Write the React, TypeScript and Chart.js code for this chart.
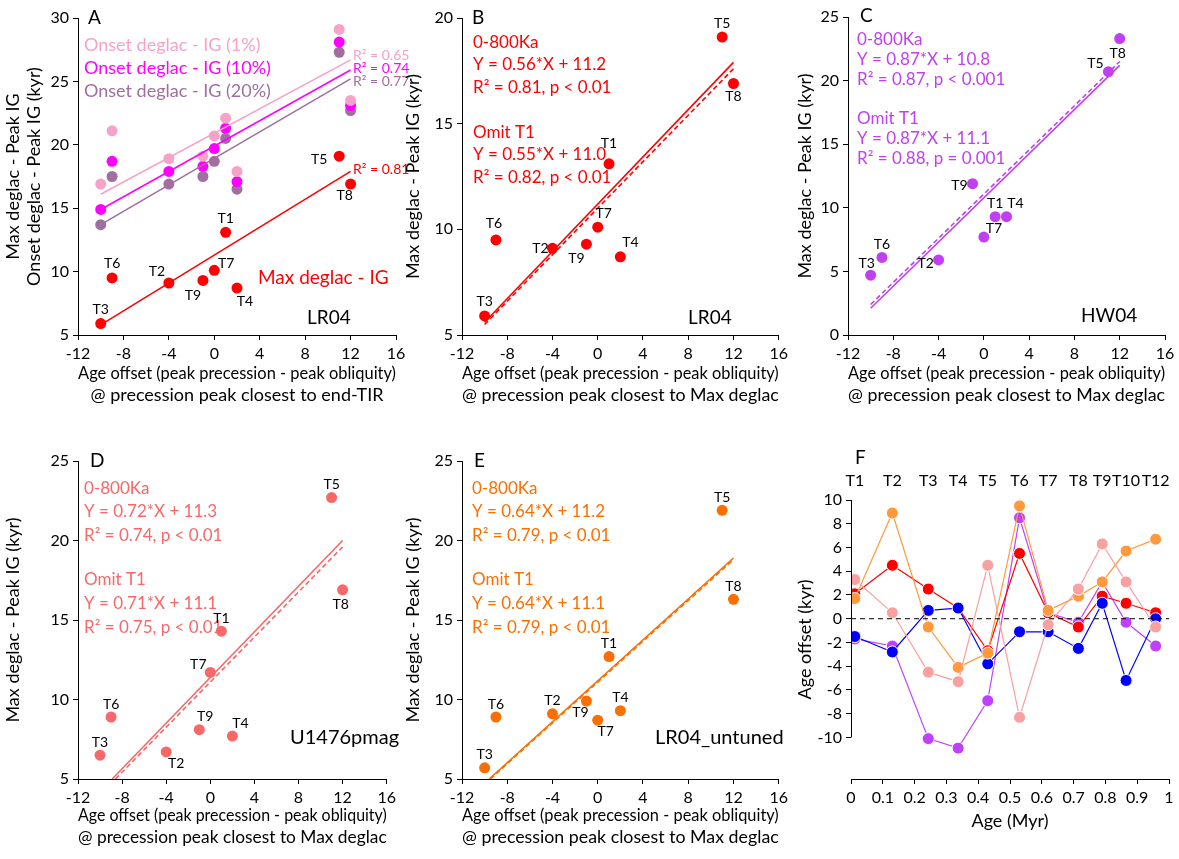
import React, { useEffect, useRef } from "react";
import { Chart, registerables } from "chart.js";
Chart.register(...registerables);

const FONT = "Lato, 'Open Sans', sans-serif";

// ---- Data ----
const tLabels = ["T3", "T6", "T2", "T9", "T7", "T1", "T4", "T5", "T8"];
const offsetX = [-10, -9, -4, -1, 0, 1, 2, 11, 12];
// Panel A
const aMaxDeglac = [5.9, 9.5, 9.1, 9.3, 10.1, 13.1, 8.7, 19.1, 16.9];
const aOnset1 = [16.9, 21.1, 18.9, 19.1, 20.7, 22.1, 17.9, 29.1, 23.5];
const aOnset10 = [14.9, 18.7, 17.9, 18.3, 19.7, 21.3, 17.1, 28.1, 23.1];
const aOnset20 = [13.7, 17.5, 16.9, 17.5, 18.7, 20.5, 16.5, 27.3, 22.7];
const aFitX = [-10, 12];
const aFit1 = [16.1, 26.7];
const aFit10 = [14.9, 25.9];
const aFit20 = [13.7, 25.2];
const aFitMax = [5.8, 17.9];
// Panel B (LR04)
const bValues = [5.9, 9.5, 9.1, 9.3, 10.1, 13.1, 8.7, 19.1, 16.9];
const bFitX = [-10, 12];
const bFitAll = [5.6, 17.9];
const bFitOmit = [5.5, 17.6];
// Panel C (HW04)
const cValues = [4.7, 6.1, 5.9, 11.9, 7.7, 9.3, 9.3, 20.7, 23.3];
const cFitX = [-10, 12];
const cFitAll = [2.1, 21.2];
const cFitOmit = [2.4, 21.5];
// Panel D (U1476pmag)
const dValues = [6.5, 8.9, 6.7, 8.1, 11.7, 14.3, 7.7, 22.7, 16.9];
const dFitAllX = [-8.9, 12];
const dFitAll = [5.0, 20.0];
const dFitOmitX = [-8.6, 12];
const dFitOmit = [5.0, 19.6];
// Panel E (LR04_untuned)
const eValues = [5.7, 8.9, 9.1, 9.9, 8.7, 12.7, 9.3, 21.9, 16.3];
const eFitAllX = [-9.6, 12];
const eFitAll = [5.0, 18.9];
const eFitOmitX = [-9.5, 12];
const eFitOmit = [5.0, 18.8];
// Panel F
const fTerms = ["T1", "T2", "T3", "T4", "T5", "T6", "T7", "T8", "T9", "T10", "T12"];
const fAges = [0.012, 0.13, 0.243, 0.337, 0.43, 0.53, 0.62, 0.715, 0.79, 0.865, 0.958];
const fRed = [2.1, 4.5, 2.5, 0.9, -2.7, 5.5, 0.5, -0.7, 1.9, 1.3, 0.5];
const fBlue = [-1.5, -2.8, 0.7, 0.9, -3.8, -1.1, -1.1, -2.5, 1.3, -5.2, 0.0];
const fOrange = [1.7, 8.9, -0.7, -4.1, -2.9, 9.5, 0.7, 1.9, 3.1, 5.7, 6.7];
const fPink = [3.3, 0.5, -4.5, -5.3, 4.5, -8.3, -0.5, 2.5, 6.3, 3.1, -0.7];
const fPurple = [-1.7, -2.3, -10.1, -10.9, -6.9, 8.5, 0.5, -0.3, 3.1, -0.3, -2.3];

const xOffsetTitle = ["Age offset (peak precession - peak obliquity)", "@ precession peak closest to Max deglac"];

type Txt = { x: number; y: number; t: string; c: string; f: number; align?: CanvasTextAlign };
type PtLbl = { xs: number[]; ys: number[]; offs: number[][] };

const pts = (xs: number[], ys: number[]) => xs.map((x, i) => ({ x, y: ys[i] }));
const scat = (ys: number[], color: string) => ({
  data: pts(offsetX, ys), backgroundColor: color, borderWidth: 0, pointRadius: 5.5, showLine: false,
});
const fit = (xs: number[], ys: number[], color: string, dash: number[] = []) => ({
  data: pts(xs, ys), borderColor: color, borderWidth: 1.6, borderDash: dash, pointRadius: 0, showLine: true, fill: false,
});

const labelsPlugin = (left: number, top: number, texts: Txt[], pl?: PtLbl) => ({
  id: "txt",
  afterDraw(chart: any) {
    const ctx = chart.ctx;
    ctx.save();
    ctx.textBaseline = "middle";
    texts.forEach((s) => {
      ctx.fillStyle = s.c;
      ctx.font = `${s.f}px ${FONT}`;
      ctx.textAlign = s.align || "left";
      ctx.fillText(s.t, s.x - left, s.y - top);
    });
    if (pl) {
      ctx.fillStyle = "#000";
      ctx.font = `14px ${FONT}`;
      ctx.textAlign = "center";
      pl.xs.forEach((x, i) => {
        const px = chart.scales.x.getPixelForValue(x) + pl.offs[i][0];
        const py = chart.scales.y.getPixelForValue(pl.ys[i]) + pl.offs[i][1];
        ctx.fillText(tLabels[i], px, py);
      });
    }
    ctx.restore();
  },
});

type Spec = {
  left: number; top: number; w: number; h: number; yW: number; xH: number; padR: number; padT: number;
  xMin: number; xMax: number; xStep: number; yMin: number; yMax: number; yStep: number;
  xTitle: string[]; yTitle: string[]; datasets: any[]; texts: Txt[]; pl?: PtLbl; isF?: boolean;
};

function Panel({ s }: { s: Spec }) {
  const ref = useRef<HTMLCanvasElement>(null);
  useEffect(() => {
    const tickCfg = { color: "#000", font: { family: FONT, size: 16 } };
    const grid = { display: true, drawOnChartArea: false, drawTicks: true, tickLength: 5, color: "#000" };
    const plugins: any[] = [labelsPlugin(s.left, s.top, s.texts, s.pl)];
    if (s.isF) {
      plugins.push({
        id: "fextra",
        afterDatasetsDraw(chart: any) {
          const ctx = chart.ctx; const x = chart.scales.x; const y = chart.scales.y;
          ctx.save();
          ctx.strokeStyle = "#000"; ctx.lineWidth = 1;
          ctx.setLineDash([5, 4]);
          ctx.beginPath(); ctx.moveTo(x.left, y.getPixelForValue(0)); ctx.lineTo(x.right, y.getPixelForValue(0)); ctx.stroke();
          ctx.restore();
        },
        afterDraw(chart: any) {
          const ctx = chart.ctx; const x = chart.scales.x; const y = chart.scales.y;
          ctx.save();
          ctx.strokeStyle = "#000"; ctx.lineWidth = 1;
          ctx.beginPath(); ctx.moveTo(x.left + 0.5, y.getPixelForValue(10)); ctx.lineTo(x.left + 0.5, y.getPixelForValue(-10)); ctx.stroke();
          ctx.fillStyle = "#000"; ctx.font = `16px ${FONT}`; ctx.textAlign = "center"; ctx.textBaseline = "middle";
          fAges.forEach((a, i) => ctx.fillText(fTerms[i], x.getPixelForValue(a), 481 - s.top));
          ctx.restore();
        },
      });
    }
    const chart = new Chart(ref.current!, {
      type: "scatter",
      data: { datasets: s.datasets },
      options: {
        animation: false, responsive: false, devicePixelRatio: 1,
        layout: { padding: { top: s.padT, right: s.padR, left: 0, bottom: 0 } },
        plugins: { legend: { display: false }, tooltip: { enabled: false } },
        scales: {
          x: {
            type: "linear", min: s.xMin, max: s.xMax,
            ticks: { ...tickCfg, stepSize: s.xStep, padding: 4,
              callback: (v: any) => (s.isF ? String(Math.round(v * 10) / 10) : String(v)) },
            grid, border: { display: true, color: "#000" },
            title: { display: true, text: s.xTitle, color: "#000", font: { family: FONT, size: 18 }, padding: 2 },
            afterFit: (sc: any) => { sc.height = s.xH; },
          },
          y: {
            type: "linear", min: s.yMin, max: s.yMax,
            ticks: { ...tickCfg, stepSize: s.yStep, padding: 4 },
            grid, border: { display: !s.isF, color: "#000" },
            title: { display: true, text: s.yTitle, color: "#000", font: { family: FONT, size: 18 }, padding: 2 },
            afterFit: (sc: any) => { sc.width = s.yW; },
            afterBuildTicks: s.isF ? (sc: any) => {
              const t = []; for (let v = -10; v <= 10; v += 2) t.push({ value: v }); sc.ticks = t;
            } : undefined,
          },
        },
      } as any,
      plugins,
    });
    return () => chart.destroy();
  }, []);
  return <canvas ref={ref} width={s.w} height={s.h}
    style={{ position: "absolute", left: s.left, top: s.top, width: s.w, height: s.h }} />;
}

const RED = "#ff0000", PINK1 = "#f7a2c8", MAG = "#ff00ff", PUR20 = "#a06fa0";
const CPUR = "#c040f0", DSAL = "#f86868", EOR = "#fb6f00";

const eqTexts = (x: number, ys: number[], c: string, lines: string[]): Txt[] =>
  lines.map((t, i) => ({ x, y: ys[i], t, c, f: 17 }));

const specs: Spec[] = [
  {
    left: 0, top: 0, w: 414, h: 408, yW: 78, xH: 73, padR: 18, padT: 18,
    xMin: -12, xMax: 16, xStep: 4, yMin: 5, yMax: 30, yStep: 5,
    xTitle: ["Age offset (peak precession - peak obliquity)", "@ precession peak closest to end-TIR"],
    yTitle: ["Max deglac - Peak IG", "Onset deglac - Peak IG (kyr)"],
    datasets: [fit(aFitX, aFit1, PINK1), fit(aFitX, aFit10, MAG), fit(aFitX, aFit20, PUR20), fit(aFitX, aFitMax, RED),
      scat(aOnset1, PINK1), scat(aOnset10, MAG), scat(aOnset20, PUR20), scat(aMaxDeglac, RED)],
    texts: [
      { x: 88, y: 18, t: "A", c: "#000", f: 19 },
      { x: 84, y: 45, t: "Onset deglac - IG (1%)", c: PINK1, f: 18 },
      { x: 84, y: 68, t: "Onset deglac - IG (10%)", c: MAG, f: 18 },
      { x: 84, y: 91, t: "Onset deglac - IG (20%)", c: PUR20, f: 18 },
      { x: 353, y: 55, t: "R² = 0.65", c: PINK1, f: 14 },
      { x: 353, y: 68, t: "R² = 0.74", c: MAG, f: 14 },
      { x: 353, y: 81, t: "R² = 0.77", c: PUR20, f: 14 },
      { x: 353, y: 169, t: "R² = 0.81", c: RED, f: 14 },
      { x: 258, y: 278, t: "Max deglac - IG", c: RED, f: 19 },
      { x: 307, y: 318, t: "LR04", c: "#000", f: 19 },
    ],
    pl: { xs: offsetX, ys: aMaxDeglac, offs: [[0, -14], [0, -14], [-12, -12], [-10, 15], [12, -7], [0, -14], [8, 13], [-20, 3], [-6, 11]] },
  },
  {
    left: 400, top: 0, w: 392, h: 408, yW: 62, xH: 73, padR: 12, padT: 18,
    xMin: -12, xMax: 16, xStep: 4, yMin: 5, yMax: 20, yStep: 5,
    xTitle: xOffsetTitle, yTitle: ["Max deglac - Peak IG (kyr)"],
    datasets: [fit(bFitX, bFitAll, RED), fit(bFitX, bFitOmit, RED, [5, 3]), scat(bValues, RED)],
    texts: [
      { x: 472, y: 18, t: "B", c: "#000", f: 19 },
      ...eqTexts(473, [43, 65, 88, 133, 155, 178], RED,
        ["0-800Ka", "Y = 0.56*X + 11.2", "R² = 0.81, p < 0.01", "Omit T1", "Y = 0.55*X + 11.0", "R² = 0.82, p < 0.01"]),
      { x: 688, y: 318, t: "LR04", c: "#000", f: 19 },
    ],
    pl: { xs: offsetX, ys: bValues, offs: [[0, -14], [-2, -16], [-12, 0], [-10, 14], [6, -14], [0, -20], [10, -14], [0, -14], [0, 13]] },
  },
  {
    left: 792, top: 0, w: 387, h: 408, yW: 56, xH: 73, padR: 14, padT: 17,
    xMin: -12, xMax: 16, xStep: 4, yMin: 0, yMax: 25, yStep: 5,
    xTitle: xOffsetTitle, yTitle: ["Max deglac - Peak IG (kyr)"],
    datasets: [fit(cFitX, cFitAll, CPUR), fit(cFitX, cFitOmit, CPUR, [5, 3]), scat(cValues, CPUR)],
    texts: [
      { x: 860, y: 16, t: "C", c: "#000", f: 19 },
      ...eqTexts(857, [40, 60, 80, 119, 139, 159], CPUR,
        ["0-800Ka", "Y = 0.87*X + 10.8", "R² = 0.87, p < 0.001", "Omit T1", "Y = 0.87*X + 11.1", "R² = 0.88, p = 0.001"]),
      { x: 1081, y: 316, t: "HW04", c: "#000", f: 19 },
    ],
    pl: { xs: offsetX, ys: cValues, offs: [[-4, -12], [0, -13], [-13, 4], [-13, 2], [10, -9], [0, -13], [9, -13], [-13, -8], [-2, 15]] },
  },
  {
    left: 0, top: 430, w: 400, h: 420, yW: 78, xH: 71, padR: 4, padT: 31,
    xMin: -12, xMax: 16, xStep: 4, yMin: 5, yMax: 25, yStep: 5,
    xTitle: xOffsetTitle, yTitle: ["Max deglac - Peak IG (kyr)"],
    datasets: [fit(dFitAllX, dFitAll, DSAL), fit(dFitOmitX, dFitOmit, DSAL, [5, 3]), scat(dValues, DSAL)],
    texts: [
      { x: 90, y: 461, t: "D", c: "#000", f: 19 },
      ...eqTexts(84, [489, 512, 536, 580, 604, 628], DSAL,
        ["0-800Ka", "Y = 0.72*X + 11.3", "R² = 0.74, p < 0.01", "Omit T1", "Y = 0.71*X + 11.1", "R² = 0.75, p < 0.01"]),
      { x: 290, y: 738, t: "U1476pmag", c: "#000", f: 20 },
    ],
    pl: { xs: offsetX, ys: dValues, offs: [[0, -13], [0, -13], [10, 12], [6, -13], [-12, -8], [0, -13], [8, -13], [0, -13], [-2, 15]] },
  },
  {
    left: 400, top: 430, w: 392, h: 420, yW: 62, xH: 71, padR: 12, padT: 31,
    xMin: -12, xMax: 16, xStep: 4, yMin: 5, yMax: 25, yStep: 5,
    xTitle: xOffsetTitle, yTitle: ["Max deglac - Peak IG (kyr)"],
    datasets: [fit(eFitAllX, eFitAll, EOR), fit(eFitOmitX, eFitOmit, EOR, [5, 3]), scat(eValues, EOR)],
    texts: [
      { x: 474, y: 461, t: "E", c: "#000", f: 19 },
      ...eqTexts(472, [489, 512, 536, 580, 604, 628], EOR,
        ["0-800Ka", "Y = 0.64*X + 11.2", "R² = 0.79, p < 0.01", "Omit T1", "Y = 0.64*X + 11.1", "R² = 0.79, p < 0.01"]),
      { x: 655, y: 738, t: "LR04_untuned", c: "#000", f: 20 },
    ],
    pl: { xs: offsetX, ys: eValues, offs: [[0, -13], [0, -13], [0, -13], [-6, 11], [8, 11], [0, -13], [0, -13], [0, -13], [0, -13]] },
  },
  {
    left: 792, top: 430, w: 387, h: 404, yW: 59, xH: 55, padR: 10, padT: 70,
    xMin: 0, xMax: 1, xStep: 0.1, yMin: -13.5, yMax: 10, yStep: 2,
    xTitle: ["Age (Myr)"], yTitle: ["Age offset (kyr)"],
    isF: true,
    datasets: [
      ["#f9a0a0", fPink], ["#ff9a3c", fOrange], ["#0000ff", fBlue], ["#ff0000", fRed], ["#c040ff", fPurple],
    ].map(([c, ys]: any) => ({
      data: pts(fAges, ys), showLine: true, borderColor: c, borderWidth: 1.2, backgroundColor: c,
      pointRadius: 6, pointBorderColor: "#fff", pointBorderWidth: 1, fill: false,
    })),
    texts: [{ x: 855, y: 458, t: "F", c: "#000", f: 19 }],
  },
];

export default function App() {
  return (
    <div style={{ position: "absolute", left: 0, top: 0, width: 1179, height: 859, background: "#fff" }}>
      {specs.map((s, i) => <Panel key={i} s={s} />)}
    </div>
  );
}
